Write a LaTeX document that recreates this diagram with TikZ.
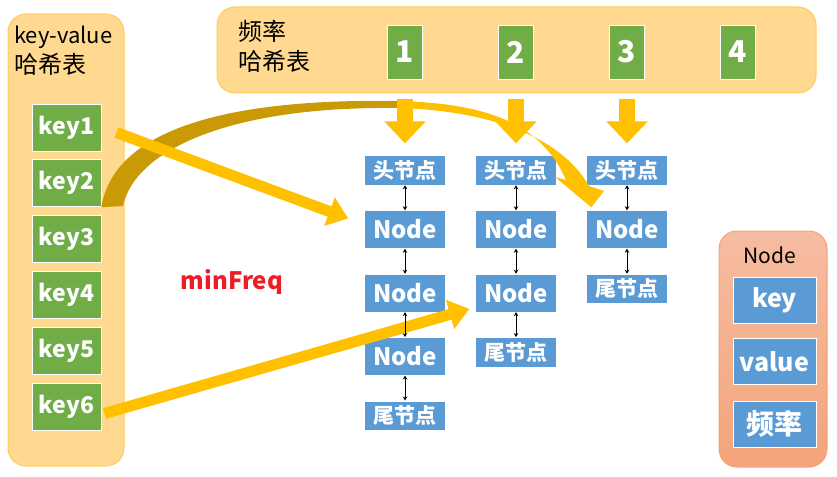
\documentclass[tikz,border=0pt]{standalone}
\usepackage{fontspec}
\setmainfont{Noto Sans CJK SC}
\usetikzlibrary{positioning, arrows.meta}

\definecolor{panelfill}{HTML}{FFD98F}
\definecolor{paneledge}{HTML}{FFCC5C}
\definecolor{keygreen}{HTML}{70AD47}
\definecolor{nodeblue}{HTML}{5B9BD5}
\definecolor{arrowyellow}{HTML}{FFC000}
\definecolor{arrowdark}{HTML}{C99A06}
\definecolor{salmontop}{HTML}{F6BCA1}
\definecolor{salmonbottom}{HTML}{F4A47B}
\definecolor{salmonedge}{HTML}{F2A27A}
\definecolor{minred}{HTML}{EE1C25}

\begin{document}
\begin{tikzpicture}[x=1pt, y=-1pt, node distance=25pt]
        % Setup the styles for the boxes
        \tikzset{panel/.style={draw=paneledge, line width=1pt, fill=panelfill, rounded corners=18pt},
                 key box/.style={fill=keygreen, draw=white, line width=0.8pt,
                                 minimum width=69pt, minimum height=47pt, inner sep=0pt,
                                 text=white, font=\fontsize{23}{26}\selectfont\bfseries},
                 freq box/.style={key box, minimum width=35pt, minimum height=54pt,
                                  font=\fontsize{30}{32}\selectfont\bfseries},
                 list box/.style={fill=nodeblue, draw=white, line width=0.4pt,
                                  minimum width=81pt, minimum height=38pt, inner sep=0pt,
                                  text=white, font=\fontsize{24}{26}\selectfont\bfseries},
                 end box/.style={list box, minimum height=29.5pt,
                                 font=\fontsize{21}{23}\selectfont\bfseries},
                 title text/.style={align=left, inner sep=0pt,
                                    font=\fontsize{24}{30}\selectfont},
                 link/.style={draw=black, line width=0.8pt,
                              {Stealth[length=4pt,width=4.5pt]}-{Stealth[length=4pt,width=4.5pt]}},
                 big arrow/.style={draw=arrowyellow, line width=11pt,
                                   -{Triangle[width=29pt,length=20pt]}},
                 down arrow/.style={draw=arrowyellow, line width=16pt,
                                    -{Triangle[width=40pt,length=22pt]},
                                    shorten <=20pt, shorten >=12pt}}

        \useasboundingbox (0,0) rectangle (837,476);

        % Draw the panels
        \node[panel, minimum width=116pt, minimum height=452pt] (kvtable) at (66,240) {};
        \node[panel, minimum width=599pt, minimum height=86pt] (freqtable) at (516.5,50) {};
        \node[draw=salmonedge, line width=1pt, top color=salmontop, bottom color=salmonbottom,
              rounded corners=18pt, minimum width=108pt, minimum height=236pt] (nodepanel) at (773,349) {};

        \node[title text, anchor=north west] (kvtitle) at (14,26) {{\fontsize{22}{30}\selectfont key-value}\\哈希表};
        \node[title text, anchor=north west] (freqtitle) at (238,20) {频率\\哈希表};
        \node[font=\fontsize{21}{23}\selectfont] (nodetitle) at (770,255) {Node};
        \node[text=minred, font=\fontsize{24}{26}\selectfont\bfseries] (minfreq) at (232,282) {minFreq};

        % Draw the keys and the frequencies
        \foreach \i in {1,...,6}
            \node[key box] (k\i) at (66.5, {127.5+55.8*(\i-1)}) {key\i};
        \foreach \i in {1,...,4}
            \node[freq box] (f\i) at ({405+111*(\i-1)}, 52) {\i};

        % Draw the lists
        \node[end box, below=76pt of f1] (h1) {头节点};
        \node[list box, below=of h1]  (n11) {Node};
        \node[list box, below=of n11] (n12) {Node};
        \node[list box, below=of n12] (n13) {Node};
        \node[end box, below=of n13]  (t1)  {尾节点};

        \node[end box, below=76pt of f2] (h2) {头节点};
        \node[list box, below=of h2]  (n21) {Node};
        \node[list box, below=of n21] (n22) {Node};
        \node[end box, below=of n22]  (t2)  {尾节点};

        \node[end box, below=76pt of f3] (h3) {头节点};
        \node[list box, below=of h3]  (n31) {Node};
        \node[end box, below=of n31]  (t3)  {尾节点};

        % Draw the fields of a node
        \node[list box, minimum width=83pt, minimum height=46pt,
              font=\fontsize{25}{27}\selectfont\bfseries] (fkey) at (774.5,300) {key};
        \node[list box, minimum width=83pt, minimum height=46pt,
              font=\fontsize{25}{27}\selectfont\bfseries, below=15pt of fkey] (fvalue) {value};
        \node[list box, minimum width=83pt, minimum height=46pt,
              font=\fontsize{28}{30}\selectfont\bfseries, below=16pt of fvalue] (ffreq) {频率};

        % Connect the frequencies with the head nodes
        \foreach \i in {1,2,3}
            \draw[down arrow] (f\i.south) -- (h\i.north);

        % Curved arrow from key2
        \fill[arrowdark] (k2.south east) .. controls (112,140) and (200,98) .. (397,101)
            -- (397,108) .. controls (230,106) and (135,150) .. (123,206) -- cycle;
        \fill[arrowyellow] (397,101) .. controls (480,103) and (540,120) .. (566,180)
            -- (555,177) -- ([shift={(5,-3)}]n31.north west) -- (604,191) -- (589,186)
            .. controls (560,135) and (485,110) .. (397,108) -- cycle;

        % Connect the keys with the nodes
        \draw[big arrow] ([shift={(15,5)}]k1.east) -- ([shift={(-16,-11)}]n11.west);
        \draw[big arrow] ([shift={(3,7)}]k6.east) -- ([shift={(-6,16)}]n22.west);

        % Link the nodes of each list
        \foreach \a/\b in {h1/n11, n11/n12, n12/n13, n13/t1,
                           h2/n21, n21/n22, n22/t2,
                           h3/n31, n31/t3}
            \draw[link] (\a) -- (\b);
\end{tikzpicture}
\end{document}
